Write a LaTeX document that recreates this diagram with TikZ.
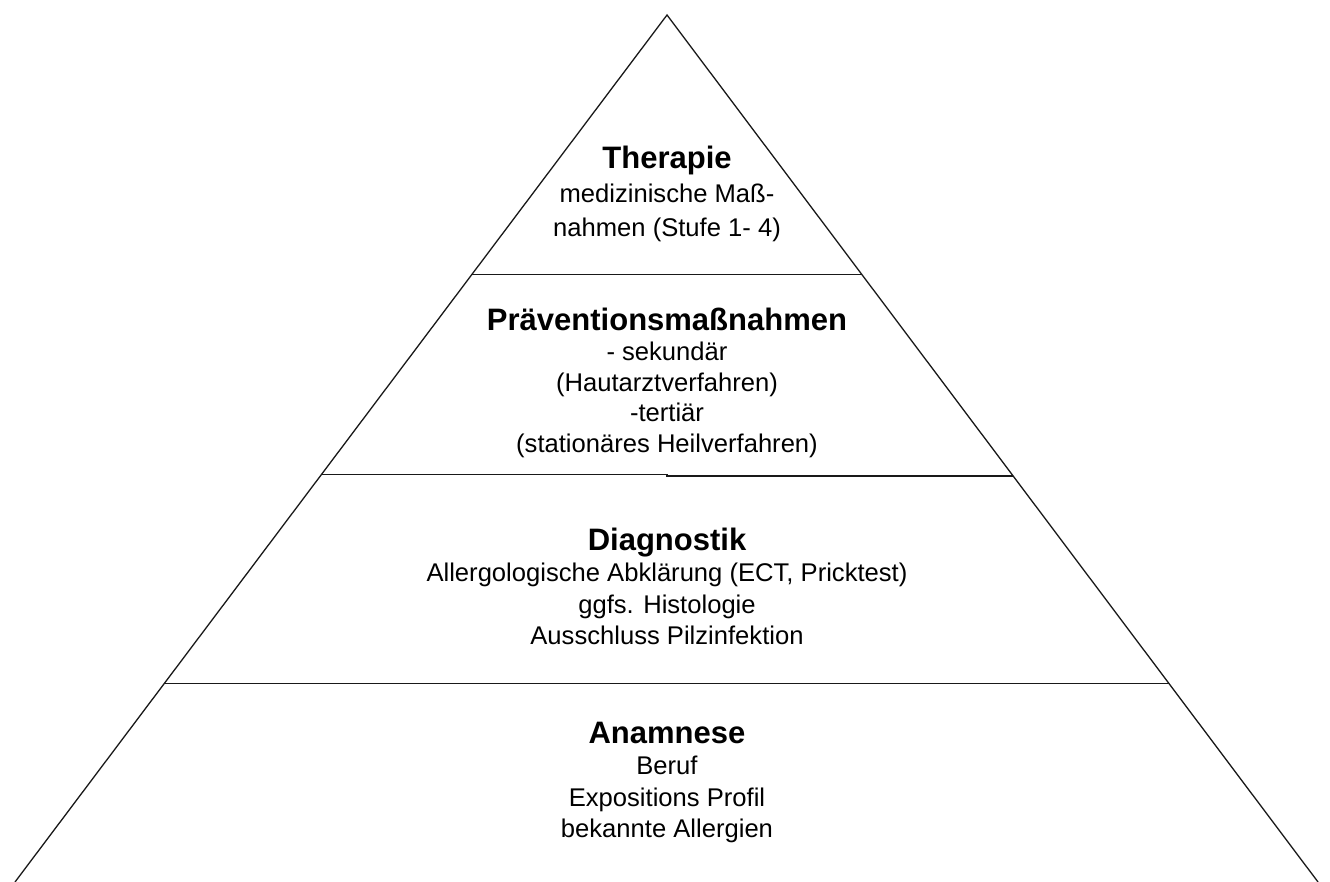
\documentclass[tikz,border=0pt]{standalone}
\usepackage{fontspec}
\setmainfont{Liberation Sans}
\usetikzlibrary{calc}

\tikzset{
  layer/.style = {align = center, inner sep = 0pt, anchor = north, font = \fontsize{25.6}{#1}\selectfont},
  layer/.default = 31.5,
  edge/.style = {line width = 1.3pt, color = black!90}
}
\newcommand{\layertitle}[1]{{\fontsize{31}{31}\selectfont\bfseries #1}}

\begin{document}
\begin{tikzpicture}[x = 1pt, y = -1pt]
                \useasboundingbox (0,0) rectangle (1330,882);
                \coordinate (apex) at (667,15);
                \coordinate (bl) at (15,882);
                \coordinate (br) at (1318,882);
                \coordinate (l1) at ($(apex)!0.2993!(bl)$);
                \coordinate (r1) at ($(apex)!0.2993!(br)$);
                \coordinate (l2) at ($(apex)!0.5300!(bl)$);
                \coordinate (r2) at ($(apex)!0.5317!(br)$);
                \coordinate (l3) at ($(apex)!0.7710!(bl)$);
                \coordinate (r3) at ($(apex)!0.7710!(br)$);
                \draw[edge] (bl) -- (apex) -- (br);
                \draw[edge] (l1) -- (r1);
                \draw[edge] (l2) -- (l2 -| apex) -- (r2 -| apex) -- (r2);
                \draw[edge] (l3) -- (r3);
                \node[layer = 34] (therapie) at (667,145.4) {\layertitle{Therapie}\\ medizinische Maß-\\ nahmen (Stufe 1- 4)};
                \node[layer = 30.5] (praevention) at (667,307.4) {\layertitle{Präventionsmaßnahmen}\\ - sekundär\\ (Hautarztverfahren)\\ -tertiär\\ (stationäres Heilverfahren)};
                \node[layer] (diagnostik) at (667,527.4) {\layertitle{Diagnostik}\\ Allergologische Abklärung (ECT, Pricktest)\\ ggfs. Histologie\\ Ausschluss Pilzinfektion};
                \node[layer] (anamnese) at (667,721.9) {\layertitle{Anamnese}\\ Beruf\\ Expositions Profil\\ bekannte Allergien};
\end{tikzpicture}
\end{document}
